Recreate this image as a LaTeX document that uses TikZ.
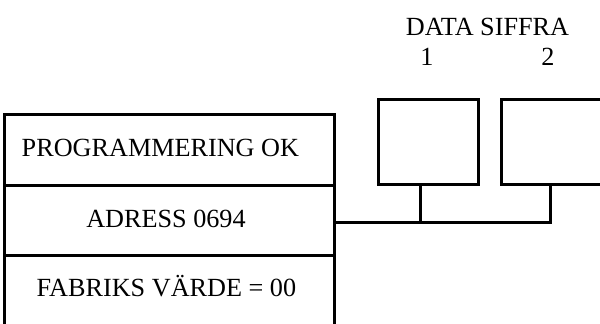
\documentclass[tikz,border=0pt]{standalone}
\usepackage{fontspec}
\setmainfont{Liberation Serif}
\begin{document}
\begin{tikzpicture}[x=1pt,y=-1pt,
  cell/.style={draw,line width=2.8pt,minimum width=329.4pt,anchor=north west,inner sep=0pt},
  digit/.style={draw,line width=2.8pt,anchor=north west,inner sep=0pt,minimum height=85pt},
  lbl/.style={anchor=base,inner sep=0pt,font=\fontsize{26.2}{30}\selectfont},
  wire/.style={line width=2.8pt}]
\useasboundingbox (0,0) rectangle (600,324);
\node[cell,minimum height=71pt] (r1) at (3.3,112.7) {};
\node[cell,minimum height=70.6pt] (r2) at (3.3,183.7) {};
\node[cell,minimum height=80pt] (r3) at (3.3,254.3) {};
\node[lbl] (t1) at (160.4,156) {PROGRAMMERING OK};
\node[lbl] (t2) at (166,227) {ADRESS 0694};
\node[lbl] (t3) at (166.4,296.5) {FABRIKS VÄRDE = 00};
\node[digit,minimum width=100.6pt] (d1) at (376.7,98) {};
\node[digit,minimum width=200pt] (d2) at (500,98) {};
\node[lbl] (h) at (487.5,35) {DATA SIFFRA};
\node[lbl] (n1) at (427,65) {1};
\node[lbl] (n2) at (548,65) {2};
\coordinate (j1) at (420.7,222.3);
\coordinate (j2) at (550.3,222.3);
\draw[wire] (d2.south -| j2) -- (j2) -- (r2.east |- j2);
\draw[wire] (d1.south -| j1) -- (j1);
\end{tikzpicture}
\end{document}
